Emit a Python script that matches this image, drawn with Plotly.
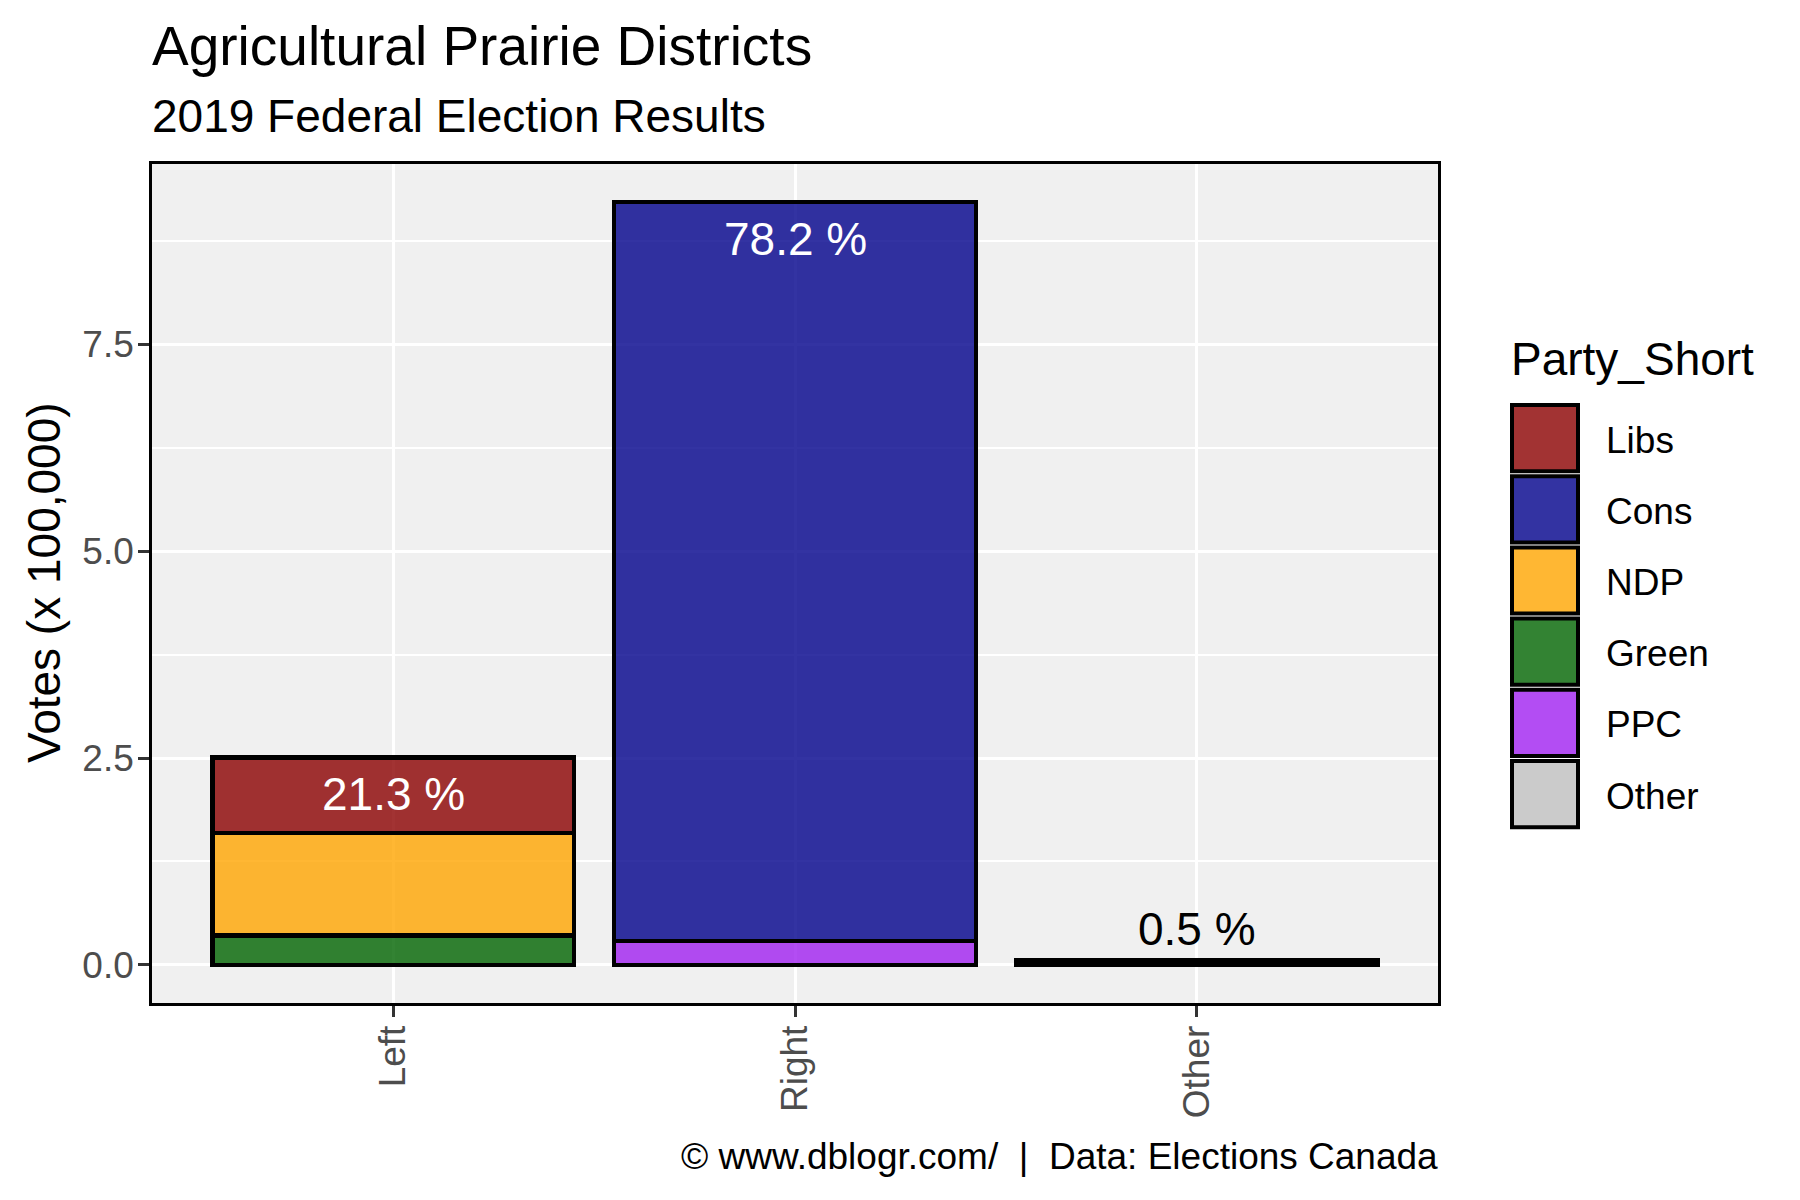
import plotly.graph_objects as go

# ---------------- data ----------------
groups = ["Left", "Right", "Other"]
parties = ["Libs", "Cons", "NDP", "Green", "PPC", "Other"]
party_group = ["Left", "Right", "Left", "Left", "Right", "Other"]
votes = [0.917, 8.93, 1.239, 0.353, 0.290, 0.050]  # votes (x 100,000)
pct_labels = ["21.3 %", "78.2 %", "0.5 %"]
y_ticks = [0.0, 2.5, 5.0, 7.5]
y_minor = [1.25, 3.75, 6.25, 8.75]

# ---------------- styles ----------------
party_colors = {
    "Libs": "rgba(139,0,0,0.8)",
    "Cons": "rgba(0,0,139,0.8)",
    "NDP": "rgba(255,165,0,0.8)",
    "Green": "rgba(0,100,0,0.8)",
    "PPC": "rgba(160,32,240,0.8)",
    "Other": "rgba(190,190,190,0.8)",
}
FONT = "Liberation Sans, Arial, sans-serif"
W, H = 1800, 1200
OFF = 8  # page body margin offset compensation
ML, MT = 152 - OFF, 164 - OFF
PW, PH = 1286, 839
MR, MB = W - ML - PW, H - MT - PH


def px_x(px):
    return (px - OFF - ML) / PW


def px_y(py):
    return (MT + PH - (py - OFF)) / PH


fig = go.Figure()

# stacking: first factor level on top (ggplot position_stack)
for i in reversed(range(len(parties))):
    fig.add_trace(go.Bar(
        x=[party_group[i]], y=[votes[i]], name=parties[i],
        marker=dict(color=party_colors[parties[i]],
                    line=dict(color="black", width=4.5)),
        width=0.9, showlegend=False,
    ))

totals = {g: sum(v for v, pg in zip(votes, party_group) if pg == g) for g in groups}
ymax = max(totals.values())

annotations = []
for g, lab in zip(groups, pct_labels):
    inside = totals[g] > 1
    annotations.append(dict(
        x=g, y=totals[g], xref="x", yref="y", text=lab, showarrow=False,
        yshift=-37 if inside else 32, yanchor="middle",
        font=dict(family=FONT, size=46, color="white" if inside else "black"),
    ))

# titles
annotations += [
    dict(text="Agricultural Prairie Districts", x=px_x(150), y=px_y(46),
         xref="paper", yref="paper", xanchor="left", yanchor="middle",
         showarrow=False, font=dict(family=FONT, size=55, color="black")),
    dict(text="2019 Federal Election Results", x=px_x(150), y=px_y(116),
         xref="paper", yref="paper", xanchor="left", yanchor="middle",
         showarrow=False, font=dict(family=FONT, size=46, color="black")),
    dict(text="© www.dblogr.com/  |  Data: Elections Canada", x=px_x(1440), y=px_y(1156),
         xref="paper", yref="paper", xanchor="right", yanchor="middle",
         showarrow=False, font=dict(family=FONT, size=37, color="black")),
    dict(text="Votes (x 100,000)", x=px_x(44), y=px_y(583), textangle=-90,
         xref="paper", yref="paper", xanchor="center", yanchor="middle",
         showarrow=False, font=dict(family=FONT, size=46, color="black")),
    dict(text="Party_Short", x=px_x(1509), y=px_y(359),
         xref="paper", yref="paper", xanchor="left", yanchor="middle",
         showarrow=False, font=dict(family=FONT, size=46, color="black")),
]

# manual legend
shapes = []
key_top, key_h = 403, 71.2
for j, p in enumerate(parties):
    t = key_top + j * key_h + 2
    b = t + key_h - 5
    shapes.append(dict(type="rect", xref="paper", yref="paper",
                       x0=px_x(1512), x1=px_x(1578), y0=px_y(b), y1=px_y(t),
                       fillcolor=party_colors[p], line=dict(color="black", width=4)))
    annotations.append(dict(text=p, x=px_x(1604), y=px_y((t + b) / 2 + 2),
                            xref="paper", yref="paper", xanchor="left", yanchor="middle",
                            showarrow=False, font=dict(family=FONT, size=37, color="black")))

fig.update_layout(
    width=W, height=H, autosize=False,
    margin=dict(l=ML, r=MR, t=MT, b=MB, autoexpand=False),
    paper_bgcolor="white", plot_bgcolor="#F0F0F0",
    barmode="stack", bargap=0.1,
    annotations=annotations, shapes=shapes,
    font=dict(family=FONT),
)
fig.update_xaxes(
    type="category", categoryorder="array", categoryarray=groups,
    range=[-0.6, len(groups) - 0.4],
    showgrid=True, gridcolor="white", gridwidth=3,
    showline=True, mirror=True, linecolor="black", linewidth=2.7,
    ticks="outside", ticklen=11, tickwidth=2.5, tickcolor="#333333",
    tickangle=-90, tickfont=dict(family=FONT, size=37, color="#4D4D4D"),
    ticklabelstandoff=-6,
    automargin=False, zeroline=False,
)
fig.update_yaxes(
    range=[-0.05 * ymax, 1.05 * ymax],
    tickmode="array", tickvals=y_ticks, tickformat=".1f",
    showgrid=True, gridcolor="white", gridwidth=3,
    minor=dict(tickmode="array", tickvals=y_minor,
               showgrid=True, gridcolor="white", gridwidth=1.5, ticks=""),
    showline=True, mirror=True, linecolor="black", linewidth=2.7,
    ticks="outside", ticklen=11, tickwidth=2.5, tickcolor="#333333",
    tickfont=dict(family=FONT, size=37, color="#4D4D4D"),
    ticklabelstandoff=-3,
    automargin=False, zeroline=False,
)

fig.write_html("out.html")
